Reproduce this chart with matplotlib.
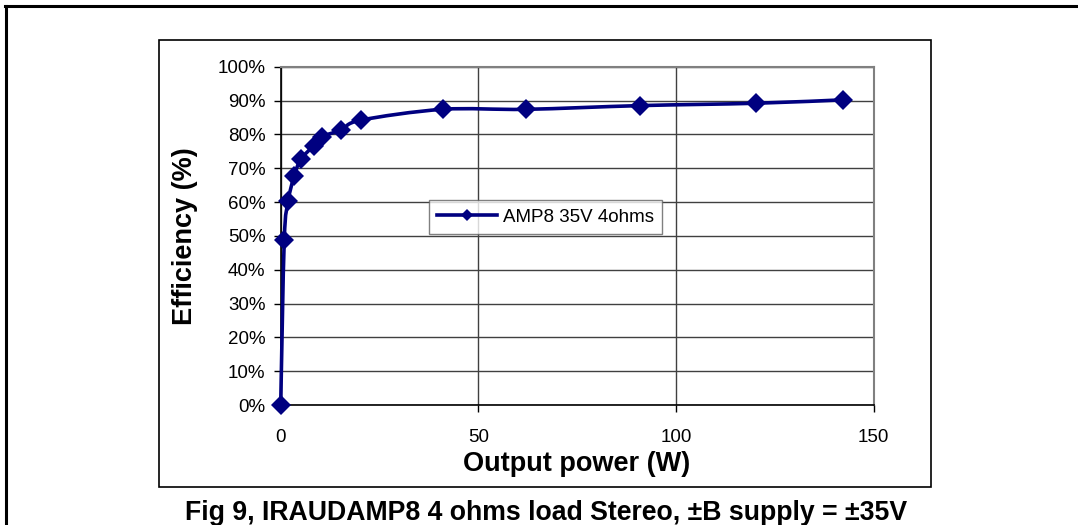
import matplotlib
matplotlib.use("Agg")
import matplotlib.pyplot as plt
from matplotlib.path import Path
from matplotlib.patches import PathPatch, Rectangle
from matplotlib.lines import Line2D
from matplotlib.ticker import PercentFormatter
import numpy as np

plt.rcParams['font.family'] = ['Liberation Sans', 'DejaVu Sans']

# efficiency curve, AMP8 35V 4ohms
power_w = [0.0, 0.9, 1.9, 3.4, 5.1, 8.3, 10.5, 15.3, 20.3, 41.0, 62.1, 90.9, 120.3, 142.2]
efficiency = [0.0, 0.488, 0.603, 0.677, 0.726, 0.766, 0.793, 0.813, 0.842, 0.874, 0.874, 0.885, 0.892, 0.902]
series_name = "AMP8 35V 4ohms"
caption = "Fig 9, IRAUDAMP8 4 ohms load Stereo, \u00b1B supply = \u00b135V"

navy = '#000080'

fig = plt.figure(figsize=(10.78, 5.25), dpi=100)

# outer frame (document border) and chart area border
fig.add_artist(Line2D([5 / 1078, 1.0], [1 - 5.5 / 525, 1 - 5.5 / 525], color='black', lw=2.2,
                      transform=fig.transFigure))
fig.add_artist(Line2D([5.5 / 1078, 5.5 / 1078], [0.0, 1 - 5.5 / 525], color='black', lw=2.2,
                      transform=fig.transFigure))
fig.add_artist(Rectangle((159 / 1078, 1 - 487 / 525), (931 - 159) / 1078, (487 - 40) / 525,
                         fill=False, edgecolor='black', lw=1.2, transform=fig.transFigure))

ax = fig.add_axes([280.7 / 1078, 1 - 405 / 525, (873.5 - 280.7) / 1078, (405 - 66.7) / 525])
ax.set_xlim(0, 150)
ax.set_ylim(0, 1)
ax.set_xticks([0, 50, 100, 150])
ax.set_yticks(np.arange(0, 1.01, 0.1))
ax.yaxis.set_major_formatter(PercentFormatter(1.0, decimals=0))
ax.grid(True, color='#404040', lw=1)
ax.set_axisbelow(True)
for side in ['top', 'right']:
    ax.spines[side].set_color('#808080')
    ax.spines[side].set_linewidth(1.5)
for side in ['left', 'bottom']:
    ax.spines[side].set_color('black')
    ax.spines[side].set_linewidth(1.2)
ax.tick_params(direction='out', length=5, width=1, labelsize=13.5, pad=6)
ax.tick_params(axis='x', pad=12)

# smoothed line like the spreadsheet chart (Catmull-Rom bezier)
pts = np.column_stack([power_w, efficiency])
n = len(pts)
verts = [pts[0]]
codes = [Path.MOVETO]
for i in range(n - 1):
    p0 = pts[max(i - 1, 0)]
    p1 = pts[i]
    p2 = pts[i + 1]
    p3 = pts[min(i + 2, n - 1)]
    verts += [p1 + (p2 - p0) / 6.0, p2 - (p3 - p1) / 6.0, p2]
    codes += [Path.CURVE4] * 3
ax.add_patch(PathPatch(Path(verts, codes), fill=False, edgecolor=navy, lw=2.6,
                       clip_on=False, zorder=3))
ax.plot(power_w, efficiency, linestyle='none', marker='D', markersize=10,
        color=navy, markeredgewidth=0, clip_on=False, zorder=4)

handle = Line2D([], [], color=navy, lw=2.6, marker='D', markersize=6.5, markeredgewidth=0)
leg = ax.legend([handle], [series_name], loc='center', bbox_to_anchor=(0.447, 0.555),
                fontsize=13.5, frameon=True, fancybox=False, handlelength=3.2,
                handletextpad=0.3, borderpad=0.45, borderaxespad=0)
leg.get_frame().set_edgecolor('#606060')
leg.get_frame().set_linewidth(1)

ax.set_xlabel("Output power (W)", fontsize=19.5, fontweight='bold', labelpad=4)
ax.set_ylabel("Efficiency (%)", fontsize=19.5, fontweight='bold', labelpad=14)

fig.text(546 / 1078, 1 - 520 / 525, caption, fontsize=19.2, fontweight='bold',
         ha='center', va='baseline')

fig.savefig("out.png", dpi=100)
